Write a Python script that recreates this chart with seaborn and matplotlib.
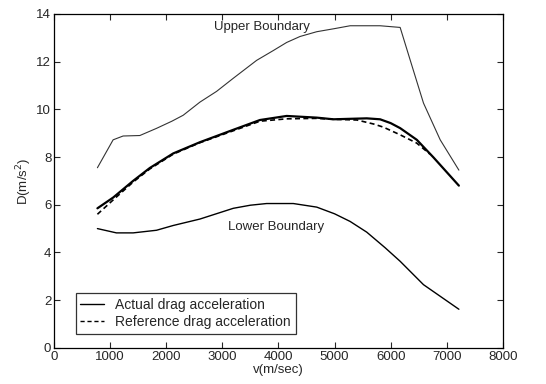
import numpy as np
import pandas as pd
import matplotlib
matplotlib.use("Agg")
import matplotlib.pyplot as plt
import seaborn as sns

# values
v_upper = [773, 1053, 1231, 1529, 1826, 2100, 2302, 2600, 2897, 3195, 3611, 3900, 4146, 4384,
           4682, 5000, 5277, 5812, 6169, 6347, 6585, 6883, 7216]
d_upper = [7.55, 8.72, 8.88, 8.9, 9.2, 9.5, 9.75, 10.3, 10.75, 11.3, 12.05, 12.45, 12.8, 13.05,
           13.25, 13.38, 13.5, 13.5, 13.43, 12.07, 10.26, 8.72, 7.45]

v_actual = [773, 1053, 1410, 1707, 2124, 2600, 3195, 3670, 4146, 4682, 4979, 5574,
            5812, 6000, 6169, 6466, 6764, 7216]
d_actual = [5.85, 6.3, 7.0, 7.54, 8.15, 8.62, 9.14, 9.55, 9.72, 9.65, 9.58, 9.62,
            9.58, 9.42, 9.21, 8.72, 7.98, 6.8]

v_ref = [773, 1053, 1410, 1707, 2124, 2600, 3195, 3670, 4146, 4682, 4979, 5400,
         5700, 5871, 6169, 6466, 6700]
d_ref = [5.6, 6.2, 6.95, 7.5, 8.12, 8.6, 9.1, 9.5, 9.6, 9.62, 9.58, 9.55,
         9.38, 9.25, 8.93, 8.58, 8.12]

v_lower = [773, 1112, 1410, 1826, 2124, 2600, 3195, 3500, 3789, 4265, 4682, 5000, 5277, 5574,
           5900, 6169, 6585, 7216]
d_lower = [5.0, 4.82, 4.82, 4.93, 5.13, 5.4, 5.85, 5.98, 6.05, 6.05, 5.9, 5.62, 5.3, 4.85,
           4.2, 3.63, 2.65, 1.62]

sns.set_theme(style="ticks")
plt.rcParams['font.family'] = ['Liberation Sans', 'DejaVu Sans']

fig = plt.figure(figsize=(5.46, 3.84), dpi=100)
ax = fig.add_axes([0.099, 0.094, 0.822, 0.87])

sns.lineplot(x=v_upper, y=d_upper, ax=ax, color='#333333', lw=0.8)
sns.lineplot(x=v_lower, y=d_lower, ax=ax, color='black', lw=1.0)
sns.lineplot(x=v_actual, y=d_actual, ax=ax, color='black', lw=1.6,
             label='Actual drag acceleration')
sns.lineplot(x=v_ref, y=d_ref, ax=ax, color='black', lw=1.2, dashes=False,
             label='Reference drag acceleration')
ax.lines[-1].set_dashes((3, 2))

ax.text(3700, 13.45, 'Upper Boundary', ha='center', va='center', fontsize=9.5)
ax.text(3950, 5.05, 'Lower Boundary', ha='center', va='center', fontsize=9.5)

ax.set_xlim(0, 8000)
ax.set_ylim(0, 14)
ax.set_xticks(range(0, 8001, 1000))
ax.set_yticks(range(0, 15, 2))
ax.tick_params(direction='in', top=True, right=True, labelsize=9.5, length=4,
               width=0.8, pad=2)
for s in ax.spines.values():
    s.set_linewidth(0.9)
    s.set_color('black')
ax.set_xlabel('v(m/sec)', fontsize=9.5, labelpad=1)
ax.set_ylabel('D(m/s$^2$)', fontsize=9.5, labelpad=2)

leg = ax.legend(loc='lower left', bbox_to_anchor=(0.048, 0.042), fontsize=10,
                frameon=True, fancybox=False, handlelength=1.7,
                borderpad=0.35, labelspacing=0.25, borderaxespad=0)
leg.get_frame().set_edgecolor('black')
leg.get_frame().set_linewidth(0.9)
leg.get_lines()[0].set_linewidth(1.0)
leg.get_lines()[1].set_linewidth(1.0)
leg.get_lines()[1].set_dashes((3, 2))

fig.savefig('out.png', dpi=100)
